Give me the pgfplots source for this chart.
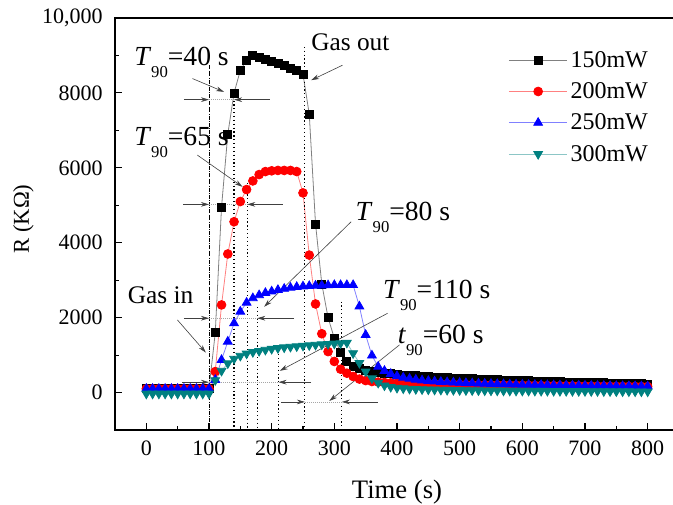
\documentclass[border=0pt]{standalone}
\usepackage{fontspec}
\setmainfont{Liberation Serif}
\usepackage{pgfplots}
\usepackage{pgfplotstable}
\pgfplotsset{compat=1.18}
\usetikzlibrary{arrows.meta}
\definecolor{tealc}{RGB}{0,128,128}

\pgfplotstableread{
x y
0 100
10 100
20 100
30 100
40 100
50 100
60 100
70 100
80 100
90 100
100 100
110 1600
120 4950
130 6900
140 8000
150 8600
160 8880
170 9000
180 8950
190 8900
200 8850
210 8790
220 8730
230 8660
240 8590
250 8500
260 7430
270 4500
280 2900
290 2000
300 1450
310 1080
320 820
330 700
340 640
350 600
360 570
370 545
380 520
390 500
400 485
410 470
420 457
430 445
440 434
450 424
460 414
470 405
480 396
490 388
500 380
510 373
520 366
530 359
540 352
550 346
560 340
570 334
580 328
590 322
600 317
610 312
620 307
630 302
640 297
650 292
660 287
670 283
680 279
690 275
700 271
710 267
720 263
730 259
740 255
750 251
760 247
770 243
780 239
790 235
800 231
}\blackdata

\pgfplotstableread{
x y
0 100
10 100
20 100
30 100
40 100
50 100
60 100
70 100
80 100
90 100
100 100
110 560
120 2340
130 3700
140 4560
150 5100
160 5420
170 5650
180 5820
190 5900
200 5920
210 5930
220 5930
230 5930
240 5900
250 5330
260 3670
270 2365
280 1570
290 1094
300 830
310 624
320 517
330 430
340 360
350 320
360 295
370 280
380 268
390 258
400 250
410 246
420 242
430 238
440 235
450 232
460 229
470 226
480 223
490 220
500 217
510 214
520 211
530 208
540 206
550 204
560 202
570 200
580 198
590 196
600 194
610 192
620 190
630 188
640 186
650 184
660 182
670 180
680 178
690 176
700 174
710 172
720 170
730 168
740 166
750 165
760 164
770 163
780 162
790 161
800 160
}\reddata

\pgfplotstableread{
x y
0 100
10 100
20 100
30 100
40 100
50 100
60 100
70 100
80 100
90 100
100 100
110 340
120 870
130 1360
140 1850
150 2160
160 2400
170 2520
180 2600
190 2660
200 2700
210 2740
220 2770
230 2800
240 2820
250 2835
260 2845
270 2855
280 2860
290 2865
300 2870
310 2870
320 2870
330 2870
340 2300
350 1540
360 990
370 690
380 580
390 500
400 440
410 400
420 370
430 345
440 325
450 310
460 297
470 286
480 276
490 268
500 260
510 253
520 247
530 241
540 236
550 231
560 226
570 222
580 218
590 214
600 210
610 207
620 204
630 201
640 198
650 195
660 192
670 190
680 188
690 186
700 184
710 182
720 180
730 178
740 176
750 174
760 172
770 170
780 168
790 166
800 165
}\bluedata

\pgfplotstableread{
x y
0 -30
10 -30
20 -30
30 -30
40 -30
50 -30
60 -30
70 -30
80 -30
90 -30
100 -30
110 330
120 580
130 780
140 900
150 980
160 1040
170 1080
180 1110
190 1140
200 1165
210 1185
220 1205
230 1220
240 1235
250 1250
260 1262
270 1275
280 1285
290 1295
300 1305
310 1315
320 1330
330 1050
340 790
350 560
360 380
370 260
380 190
390 150
400 125
410 110
420 100
430 92
440 86
450 81
460 77
470 73
480 70
490 67
500 64
510 62
520 60
530 58
540 56
550 54
560 52
570 50
580 49
590 48
600 47
610 46
620 45
630 44
640 43
650 42
660 41
670 40
680 39
690 38
700 37
710 36
720 35
730 34
740 33
750 32
760 31
770 30
780 29
790 28
800 27
}\tealdata

\newcommand{\Tn}[2]{\textit{#1}\raisebox{-9.5pt}{\fontsize{12.5}{13}\selectfont 90}#2}

\begin{document}
\begin{tikzpicture}
\begin{axis}[
  scale only axis, width=423pt, height=309pt,
  xmin=-50, xmax=850, ymin=-1000, ymax=10000,
  xtick={0,100,...,800}, ytick={0,2000,...,10000},
  xticklabels={0,100,200,300,400,500,600,700,800},
  yticklabels={0,2000,4000,6000,8000,{10,000}},
  minor x tick num=1, minor y tick num=1,
  tick pos=left, tick align=inside,
  major tick length=5.5pt, minor tick length=3pt,
  axis line style={line width=0.9pt},
  every tick/.style={line width=0.8pt, black},
  /pgf/number format/assume math mode=true,
  ticklabel style={font=\rmfamily\fontsize{16.5}{18}\selectfont},
  scaled y ticks=false,
  xticklabel style={yshift=-4.5pt},
  yticklabel style={xshift=-5.75pt},
  xlabel={Time (s)}, ylabel={R (KΩ)},
  xlabel style={font=\fontsize{20}{22}\selectfont, at={(rel axis cs:0.5,0)}, anchor=base, yshift=-51pt},
  ylabel style={font=\fontsize{17}{19}\selectfont, at={(rel axis cs:0,0.512)}, anchor=center, yshift=68.6pt},
  legend style={draw=none, fill=none, at={(0.69,0.933)}, anchor=north west,
    font=\fontsize{18}{20}\selectfont, row sep=6pt},
  legend cell align=left,
  legend image code/.code={\draw[#1, mark repeat=2, mark phase=2] plot coordinates {(0pt,0pt) (22pt,0pt) (44pt,0pt)};},
]
\addplot[color=black!50, line width=0.6pt, mark=square*, mark size=3pt, mark options={draw=black, fill=black}] table[x=x,y=y] {\blackdata};
\addlegendentry{150mW}
\addplot[color=red!50, line width=0.6pt, mark=*, mark size=3.3pt, mark options={draw=red, fill=red}] table[x=x,y=y] {\reddata};
\addlegendentry{200mW}
\addplot[color=blue!50, line width=0.6pt, mark=triangle*, mark size=3.8pt, mark options={draw=blue, fill=blue}] table[x=x,y=y] {\bluedata};
\addlegendentry{250mW}
\addplot[color=tealc!45, line width=0.6pt, mark=triangle*, mark size=3.8pt, mark options={draw=tealc, fill=tealc, rotate=180}] table[x=x,y=y] {\tealdata};
\addlegendentry{300mW}

% vertical reference lines
\draw[densely dashdotted, line width=0.7pt] (axis cs:100,8740) -- (axis cs:100,-1000);
\draw[dotted, line width=0.9pt] (axis cs:140,7900) -- (axis cs:140,-1000);
\draw[dotted, line width=0.9pt] (axis cs:161,5600) -- (axis cs:161,-1000);
\draw[dotted, line width=0.9pt] (axis cs:177,2290) -- (axis cs:177,-1000);
\draw[dotted, line width=0.9pt] (axis cs:211,1230) -- (axis cs:211,-1000);
\draw[dotted, line width=0.9pt] (axis cs:253,9230) -- (axis cs:253,-1000);
\draw[dotted, line width=0.9pt] (axis cs:312,2430) -- (axis cs:312,-1000);

% horizontal dotted spans
\draw[densely dotted, gray!70, line width=0.5pt] (axis cs:100,7820) -- (axis cs:140,7820);
\draw[densely dotted, gray!70, line width=0.5pt] (axis cs:100,5024) -- (axis cs:161,5024);
\draw[densely dotted, gray!70, line width=0.5pt] (axis cs:100,1984) -- (axis cs:177,1984);
\draw[densely dotted, gray!70, line width=0.5pt] (axis cs:100,277) -- (axis cs:211,277);
\draw[densely dotted, gray!70, line width=0.5pt] (axis cs:253,-250) -- (axis cs:312,-250);

\tikzset{arr/.style={-{Stealth[length=6pt,width=3.5pt]}, black!75, line width=0.45pt}}
% horizontal arrows
\draw[arr] (axis cs:60,7820) -- (axis cs:100,7820);
\draw[arr] (axis cs:197,7820) -- (axis cs:140,7820);
\draw[arr] (axis cs:59,5024) -- (axis cs:100,5024);
\draw[arr] (axis cs:218,5024) -- (axis cs:161,5024);
\draw[arr] (axis cs:60,1984) -- (axis cs:100,1984);
\draw[arr] (axis cs:236,1984) -- (axis cs:177,1984);
\draw[arr] (axis cs:57,277) -- (axis cs:100,277);
\draw[arr] (axis cs:263,277) -- (axis cs:211,277);
\draw[arr] (axis cs:215,-250) -- (axis cs:253,-250);
\draw[arr] (axis cs:369,-250) -- (axis cs:312,-250);

% diagonal arrows
\draw[arr] (axis cs:73.5,8384) -- (axis cs:124,8027);
\draw[arr] (axis cs:81.5,6339) -- (axis cs:153.5,5493);
\draw[arr] (axis cs:326.8,4560) -- (axis cs:188,2290);
\draw[arr] (axis cs:49.6,1939) -- (axis cs:95,1067);
\draw[arr] (axis cs:385,2117) -- (axis cs:213,580);
\draw[arr] (axis cs:404,1272) -- (axis cs:292,-225);
\draw[arr] (axis cs:313,8739) -- (axis cs:263,8339);

% labels
\tikzset{lab/.style={anchor=base west, inner sep=0pt, font=\fontsize{20.7}{24}\selectfont},
         gas/.style={anchor=base west, inner sep=0pt, font=\fontsize{19}{22}\selectfont}}
\node[lab] at (axis cs:-19.7,8739) {\Tn{T}{=40 s}};
\node[lab] at (axis cs:-19.7,6605) {\Tn{T}{=65 s}};
\node[lab] at (axis cs:333.7,4605) {\Tn{T}{=80 s}};
\node[lab] at (axis cs:377.4,2517) {\Tn{T}{=110 s}};
\node[lab] at (axis cs:401,1317) {\Tn{t}{=60 s}};
\node[gas] at (axis cs:-30,2370) {Gas in};
\node[gas] at (axis cs:262.8,9139) {Gas out};
\end{axis}
\pgfresetboundingbox
\useasboundingbox (-86.25pt,-55.5pt) rectangle (418.5pt,322.5pt);
\end{tikzpicture}
\end{document}
